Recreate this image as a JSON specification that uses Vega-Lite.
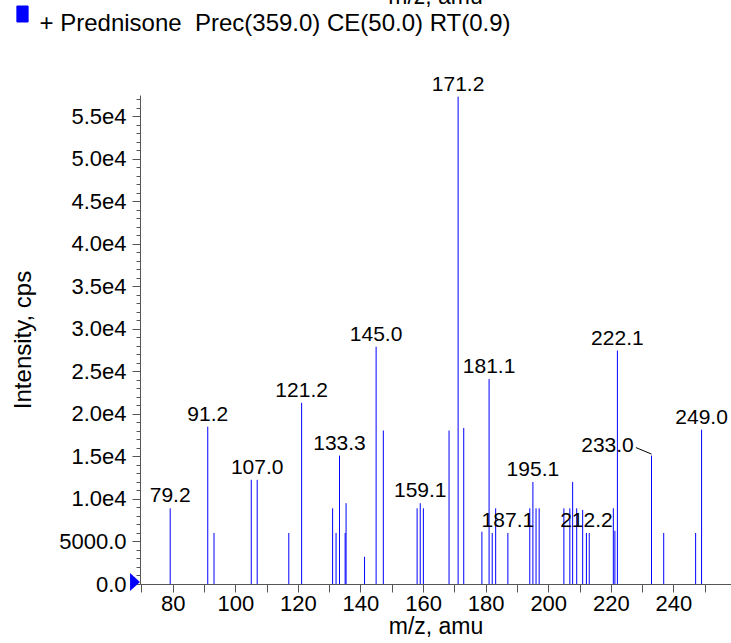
{
  "$schema": "https://vega.github.io/schema/vega-lite/v6.json",
  "width": 591,
  "height": 489,
  "autosize": "none",
  "padding": {"left": 140, "top": 95, "right": 0, "bottom": 59},
  "background": "white",
  "config": {
    "font": "Liberation Sans",
    "view": {"stroke": null},
    "axis": {
      "labelFont": "Liberation Sans",
      "titleFont": "Liberation Sans",
      "labelFontSize": 22,
      "titleFontSize": 23,
      "titleFontWeight": "normal",
      "labelColor": "#000000",
      "titleColor": "#000000",
      "domainColor": "#555555",
      "tickColor": "#555555",
      "grid": false,
      "labelFlush": false,
      "labelOverlap": false
    }
  },
  "title": {
    "text": "m/z, amu",
    "anchor": "middle",
    "frame": "group",
    "baseline": "alphabetic",
    "offset": -25,
    "fontSize": 23,
    "fontWeight": "normal",
    "font": "Liberation Sans",
    "color": "#000000"
  },
  "datasets": {
    "peaks": [
      {"mz": 79.2, "intensity": 8900, "label": "79.2"},
      {"mz": 91.2, "intensity": 18500, "label": "91.2"},
      {"mz": 93.2, "intensity": 6000},
      {"mz": 105.1, "intensity": 12250},
      {"mz": 107.0, "intensity": 12250, "label": "107.0"},
      {"mz": 117.1, "intensity": 6000},
      {"mz": 121.2, "intensity": 21300, "label": "121.2"},
      {"mz": 131.1, "intensity": 8900},
      {"mz": 132.2, "intensity": 6000},
      {"mz": 133.3, "intensity": 15100, "label": "133.3"},
      {"mz": 135.1, "intensity": 6000},
      {"mz": 135.4, "intensity": 9500},
      {"mz": 141.3, "intensity": 3200},
      {"mz": 145.0, "intensity": 27900, "label": "145.0"},
      {"mz": 147.3, "intensity": 18050},
      {"mz": 158.1, "intensity": 8900},
      {"mz": 159.1, "intensity": 9500, "label": "159.1"},
      {"mz": 160.1, "intensity": 8900},
      {"mz": 168.3, "intensity": 18050},
      {"mz": 171.2, "intensity": 57300, "label": "171.2"},
      {"mz": 173.0, "intensity": 18350},
      {"mz": 178.8, "intensity": 6150},
      {"mz": 181.1, "intensity": 24100, "label": "181.1"},
      {"mz": 182.1, "intensity": 6000},
      {"mz": 183.2, "intensity": 8900},
      {"mz": 187.1, "intensity": 6000, "label": "187.1"},
      {"mz": 194.1, "intensity": 8900},
      {"mz": 195.1, "intensity": 12000, "label": "195.1"},
      {"mz": 196.1, "intensity": 8900},
      {"mz": 197.1, "intensity": 8900},
      {"mz": 205.0, "intensity": 8900},
      {"mz": 206.9, "intensity": 8900},
      {"mz": 207.8, "intensity": 12000},
      {"mz": 209.1, "intensity": 8900},
      {"mz": 211.0, "intensity": 8700},
      {"mz": 212.2, "intensity": 6000, "label": "212.2"},
      {"mz": 213.1, "intensity": 6000},
      {"mz": 220.8, "intensity": 8900},
      {"mz": 221.3, "intensity": 6250},
      {"mz": 222.1, "intensity": 27450, "label": "222.1"},
      {"mz": 233.0, "intensity": 15100, "label": "233.0"},
      {"mz": 236.9, "intensity": 6000},
      {"mz": 247.1, "intensity": 6000},
      {"mz": 249.0, "intensity": 18150, "label": "249.0"}
    ]
  },
  "layer": [
    {
      "data": {"name": "peaks"},
      "mark": {"type": "rule", "strokeWidth": 1},
      "encoding": {
        "x": {
          "field": "mz",
          "type": "quantitative",
          "scale": {"domain": [69.55, 258.4], "nice": false, "zero": false},
          "axis": {
            "values": [70, 80, 90, 100, 110, 120, 130, 140, 150, 160, 170, 180, 190, 200, 210, 220, 230, 240, 250],
            "tickCount": 200,
            "labelExpr": "datum.value % 20 === 0 ? datum.label : ''",
            "format": "d",
            "tickSize": 8,
            "labelPadding": 1,
            "title": "m/z, amu",
            "titlePadding": 1
          }
        },
        "y": {
          "field": "intensity",
          "type": "quantitative",
          "scale": {"domain": [0, 57500], "nice": false},
          "axis": {
            "orient": "left",
            "values": [0, 1000, 2000, 3000, 4000, 5000, 6000, 7000, 8000, 9000, 10000, 11000, 12000, 13000, 14000, 15000, 16000, 17000, 18000, 19000, 20000, 21000, 22000, 23000, 24000, 25000, 26000, 27000, 28000, 29000, 30000, 31000, 32000, 33000, 34000, 35000, 36000, 37000, 38000, 39000, 40000, 41000, 42000, 43000, 44000, 45000, 46000, 47000, 48000, 49000, 50000, 51000, 52000, 53000, 54000, 55000, 56000, 57000],
            "tickCount": 200,
            "labelExpr": "datum.value % 5000 !== 0 ? '' : datum.value === 0 ? '0.0' : datum.value === 5000 ? '5000.0' : format(datum.value / 10000, '.1f') + 'e4'",
            "tickSize": {"condition": {"test": "datum.value % 5000 === 0", "value": 8}, "value": 4},
            "labelPadding": 6,
            "title": "Intensity, cps",
            "titleFontSize": 24,
            "titlePadding": 23
          }
        },
        "y2": {"datum": 0},
        "color": {
          "datum": "+ Prednisone\u00a0 Prec(359.0) CE(50.0) RT(0.9)",
          "type": "nominal",
          "scale": {"range": ["#0000ff"]},
          "legend": {
            "orient": "none",
            "legendX": -129.5,
            "legendY": -93,
            "title": null,
            "padding": 0,
            "symbolType": "M-0.7,-1H0.7V1H-0.7Z",
            "symbolSize": 256,
            "labelFont": "Liberation Sans",
            "labelFontSize": 24,
            "labelColor": "#000000",
            "labelOffset": 5,
            "labelLimit": 1000,
            "labelBaseline": "alphabetic",
            "encode": {
              "symbols": {
                "update": {
                  "fill": {"value": "#0000ff"},
                  "stroke": {"value": "#000080"},
                  "strokeWidth": {"value": 1},
                  "shape": {"value": "M-0.7,-1H0.7V1H-0.7Z"}
                }
              },
              "labels": {
                "update": {"dy": {"value": 17}}
              }
            }
          }
        }
      }
    },
    {
      "data": {"name": "peaks"},
      "transform": [{"filter": "datum.label != null && datum.label !== '233.0'"}],
      "mark": {"type": "text", "align": "center", "baseline": "alphabetic", "dy": -6, "fontSize": 21, "font": "Liberation Sans", "color": "#000000"},
      "encoding": {
        "x": {"field": "mz", "type": "quantitative"},
        "y": {"field": "intensity", "type": "quantitative"},
        "text": {"field": "label"}
      }
    },
    {
      "data": {"name": "peaks"},
      "transform": [{"filter": "datum.label === '233.0'"}],
      "mark": {"type": "text", "align": "center", "baseline": "alphabetic", "dx": -44, "dy": -4, "fontSize": 21, "font": "Liberation Sans", "color": "#000000"},
      "encoding": {
        "x": {"field": "mz", "type": "quantitative"},
        "y": {"field": "intensity", "type": "quantitative"},
        "text": {"field": "label"}
      }
    },
    {
      "data": {"name": "peaks"},
      "transform": [{"filter": "datum.label === '233.0'"}],
      "mark": {"type": "rule", "color": "#000000", "strokeWidth": 1, "yOffset": -1.5, "x2Offset": -15.6, "y2Offset": -8},
      "encoding": {
        "x": {"field": "mz", "type": "quantitative"},
        "y": {"field": "intensity", "type": "quantitative"},
        "x2": {"field": "mz"},
        "y2": {"field": "intensity"}
      }
    },
    {
      "data": {"values": [{"marker": "precursor"}]},
      "mark": {"type": "point", "shape": "M-0.55,-1L0.55,0L-0.55,1Z", "size": 324, "filled": true, "color": "#0000ff", "opacity": 1, "xOffset": -5, "yOffset": -2},
      "encoding": {
        "x": {"datum": 69.55, "type": "quantitative"},
        "y": {"datum": 0, "type": "quantitative"}
      }
    }
  ]
}
